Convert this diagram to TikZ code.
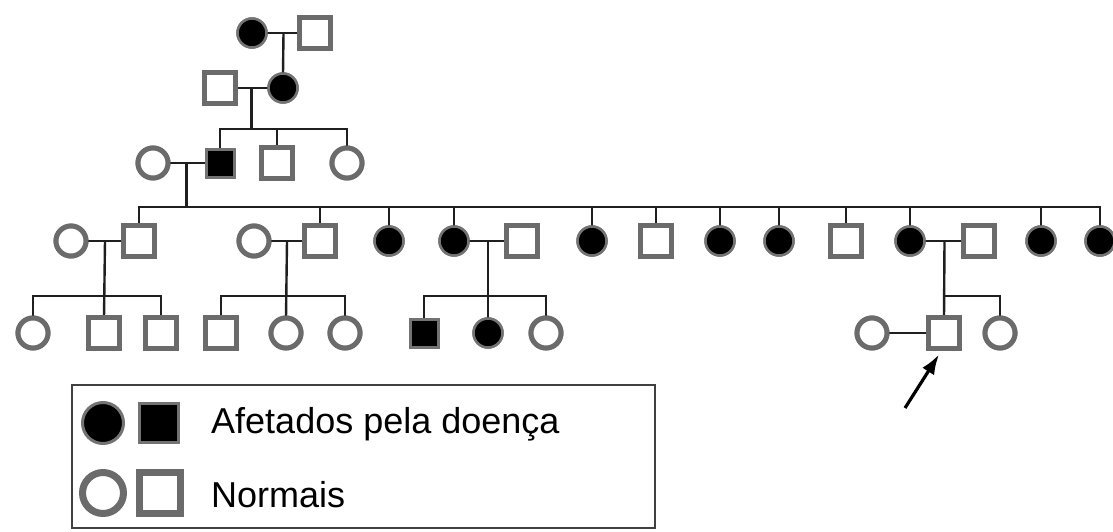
\documentclass[tikz,border=0pt]{standalone}
\usepackage{fontspec}
\setmainfont{Liberation Sans}
\usetikzlibrary{calc,arrows.meta}
\tikzset{
  sym/.style={inner sep=0pt, outer sep=0pt},
  nc/.style={sym, circle, draw=black!58, fill=white, line width=5pt, minimum size=30pt},
  ac/.style={sym, circle, draw=black!55, fill=black, line width=2.5pt, minimum size=29pt},
  ns/.style={sym, rectangle, draw=black!58, fill=white, line width=5pt, minimum size=31pt},
  as/.style={sym, rectangle, draw=black!55, fill=black, line width=3pt, minimum size=28pt},
  ln/.style={draw=black!88, line width=2.4pt},
  lgnc/.style={sym, circle, draw=black!58, fill=white, line width=7pt, minimum size=41pt},
  lgac/.style={sym, circle, draw=black!55, fill=black, line width=3pt, minimum size=41pt},
  lgns/.style={sym, rectangle, draw=black!58, fill=white, line width=7pt, minimum size=41pt},
  lgas/.style={sym, rectangle, draw=black!55, fill=black, line width=3pt, minimum size=39pt},
  lgtext/.style={anchor=base west, inner sep=0pt, font=\fontsize{36}{40}\selectfont},
}
\begin{document}
\begin{tikzpicture}[x=1pt,y=-1pt]
\useasboundingbox (0,0) rectangle (1113,532);

\path (252,33) coordinate (pI1) (315,33) coordinate (pI2);
\path (220,88) coordinate (pII1) (283,88) coordinate (pII2);
\path (153,163) coordinate (pIII1) (220,163) coordinate (pIII2)
      (277,163) coordinate (pIII3) (347,163) coordinate (pIII4);

% nodes
\node[ac] (i1) at (pI1) {};
\node[ns] (i2) at (pI2) {};
\node[ns] (ii1) at (pII1) {};
\node[ac] (ii2) at (pII2) {};
\node[nc] (iii1) at (pIII1) {};
\node[as] (iii2) at (pIII2) {};
\node[ns] (iii3) at (pIII3) {};
\node[nc] (iii4) at (pIII4) {};

% Generation IV
\node[nc] (iv1)  at (71,241)  {};
\node[ns] (iv2)  at (139,241) {};
\node[nc] (iv3)  at (254,241) {};
\node[ns] (iv4)  at (320,241) {};
\node[ac] (iv5)  at (389,241) {};
\node[ac] (iv6)  at (454,241) {};
\node[ns] (iv7)  at (522,241) {};
\node[ac] (iv8)  at (592,241) {};
\node[ns] (iv9)  at (656,241) {};
\node[ac] (iv10) at (720,241) {};
\node[ac] (iv11) at (779,241) {};
\node[ns] (iv12) at (846,241) {};
\node[ac] (iv13) at (910,241) {};
\node[ns] (iv14) at (979,241) {};
\node[ac] (iv15) at (1041,241) {};
\node[ac] (iv16) at (1100,241) {};

% Generation V
\node[nc] (v1)  at (33,333)  {};
\node[ns] (v2)  at (104,333) {};
\node[ns] (v3)  at (161,333) {};
\node[ns] (v4)  at (221,333) {};
\node[nc] (v5)  at (286,333) {};
\node[nc] (v6)  at (345,333) {};
\node[as] (v7)  at (424,333) {};
\node[ac] (v8)  at (488,333) {};
\node[nc] (v9)  at (546,333) {};
\node[nc] (v10) at (872,333) {};
\node[ns] (v11) at (944,333) {};
\node[nc] (v12) at (1000,333) {};

% ---------- connectors ----------
\draw[ln] (i1) -- (i2);
\draw[ln] (ii1) -- (ii2);
\draw[ln] (iii1) -- (iii2);
\draw[ln] (iv1) -- (iv2);
\draw[ln] (iv3) -- (iv4);
\draw[ln] (iv6) -- (iv7);
\draw[ln] (iv13) -- (iv14);
\draw[ln] (v10) -- (v11);

\coordinate (m1) at ($(i1)!.5!(i2)$);
\draw[ln] (m1) -- (ii2.north);

\coordinate (m2) at ($(ii1)!.5!(ii2)$);
\coordinate (b2) at ($(m2)+(0,41)$);
\draw[ln] (m2) -- (b2);
\draw[ln] (iii2.north) |- (b2) -| (iii4.north);
\draw[ln] (iii3.north) -- (iii3.north |- b2);

\coordinate (m3) at ($(iii1)!.5!(iii2)$);
\coordinate (b3) at ($(m3)+(0,44)$);
\draw[ln] (m3) -- (b3);
\draw[ln] (iv2.north) |- (b3) -| (iv16.north);
\foreach \c in {iv4,iv5,iv6,iv8,iv9,iv10,iv11,iv12,iv13,iv15}
  \draw[ln] (\c.north) -- (\c.north |- b3);

\coordinate (m4) at ($(iv1)!.5!(iv2)$);
\coordinate (b4) at ($(m4)+(0,55)$);
\draw[ln] (m4) -- (v2.north);
\draw[ln] (v1.north) |- (b4) -| (v3.north);

\coordinate (m5) at ($(iv3)!.5!(iv4)$);
\coordinate (b5) at ($(m5)+(0,55)$);
\draw[ln] (m5) -- (v5.north);
\draw[ln] (v4.north) |- (b5) -| (v6.north);

\coordinate (m6) at ($(iv6)!.5!(iv7)$);
\coordinate (b6) at ($(m6)+(0,55)$);
\draw[ln] (m6) -- (v8.north);
\draw[ln] (v7.north) |- (b6) -| (v9.north);

\coordinate (m7) at ($(iv13)!.5!(iv14)$);
\coordinate (b7) at ($(m7)+(0,55)$);
\draw[ln] (m7) -- (v11.north);
\draw[ln] (b7) -| (v12.north);

% symbols on top of connectors
\foreach \n/\s in {i1/ac,i2/ns,ii1/ns,ii2/ac,iii1/nc,iii2/as,iii3/ns,iii4/nc,
  iv1/nc,iv2/ns,iv3/nc,iv4/ns,iv5/ac,iv6/ac,iv7/ns,iv8/ac,iv9/ns,iv10/ac,iv11/ac,
  iv12/ns,iv13/ac,iv14/ns,iv15/ac,iv16/ac,
  v1/nc,v2/ns,v3/ns,v4/ns,v5/nc,v6/nc,v7/as,v8/ac,v9/nc,v10/nc,v11/ns,v12/nc}
  \node[\s] at (\n.center) {};

% proband arrow
\coordinate (arrtail) at (905,408);
\draw[black, line width=3.2pt, -{Latex[length=20pt,width=14pt]}] (arrtail) -- ($(v11.south)+(-5,6)$);

% ---------- legend ----------
\node[draw=black!75, line width=2.5pt, inner sep=0pt, minimum width=583pt, minimum height=143pt] (legend) at (363.5,456.5) {};
\node[lgac] (la1) at (103,423) {};
\node[lgas] (la2) at (159,423) {};
\node[lgnc] (ln1) at (103,493) {};
\node[lgns] (ln2) at (160,493) {};
\node[lgtext] (lt1) at (211,433) {Afetados pela doença};
\node[lgtext] (lt2) at (211,507) {Normais};
\end{tikzpicture}
\end{document}
